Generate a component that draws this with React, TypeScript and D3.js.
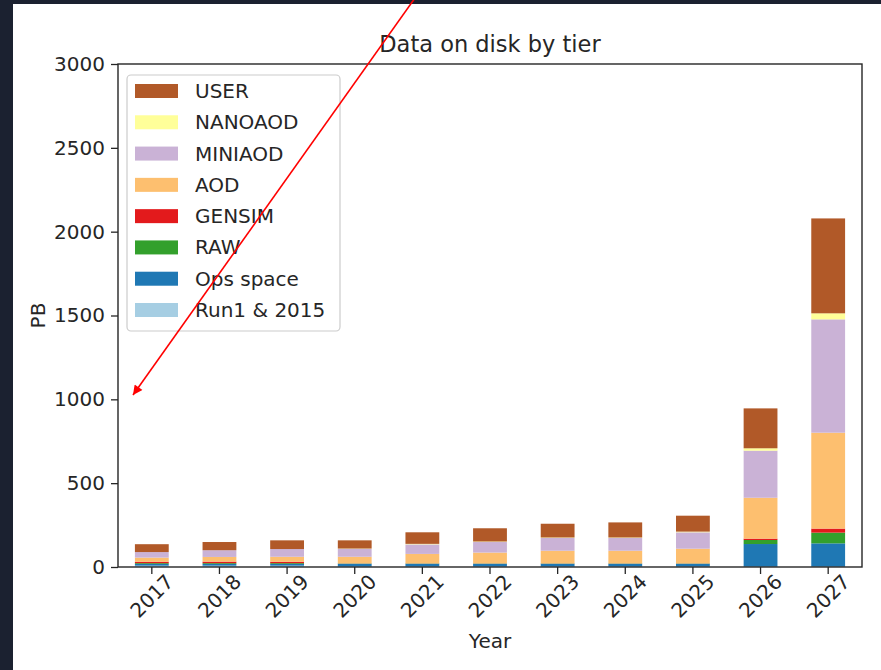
import { useEffect, useRef } from 'react';
import * as d3 from 'd3';

const years = ['2017', '2018', '2019', '2020', '2021', '2022', '2023', '2024', '2025', '2026', '2027'];
const run1 = [8, 8, 8, 3, 3, 3, 3, 3, 3, 2, 2];
const opsSpace = [10, 10, 10, 16, 16, 16, 16, 16, 16, 135, 139];
const raw = [5, 5, 5, 2, 2, 2, 2, 2, 2, 24, 64];
const gensim = [8, 9, 8, 1, 1, 1, 1, 1, 1, 8, 24];
const aod = [25, 28, 30, 39, 56, 64, 75, 75, 87, 244, 572];
const miniaod = [33, 40, 46, 47, 57, 63, 76, 76, 98, 281, 676];
const nanoaod = [0, 0, 0, 2, 3, 3, 3, 3, 4, 14, 36];
const user = [47, 49, 52, 49, 69, 79, 82, 90, 95, 238, 566];

// bottom to top, like the stacking order
const tiers = ['Run1 & 2015', 'Ops space', 'RAW', 'GENSIM', 'AOD', 'MINIAOD', 'NANOAOD', 'USER'];
const tierValues = [run1, opsSpace, raw, gensim, aod, miniaod, nanoaod, user];
const tierColors = ['#a6cee3', '#1f78b4', '#33a02c', '#e31a1c', '#fdbf6f', '#cab2d6', '#ffff99', '#b15928'];
const yTicks = [0, 500, 1000, 1500, 2000, 2500, 3000];

const W = 881;
const H = 670;
const left = 118;
const right = 862;
const top = 64;
const bottom = 567;
const font = 'DejaVu Sans, sans-serif';
const ink = '#262626';

const App = () => {
  const containerRef = useRef<HTMLDivElement | null>(null);

  useEffect(() => {
    if (!containerRef.current) return;
    containerRef.current.innerHTML = '';

    const rows = years.map((year, i) => {
      const row: Record<string, number | string> = { year };
      tiers.forEach((t, k) => {
        row[t] = tierValues[k][i];
      });
      return row;
    });

    const series = d3.stack<Record<string, number | string>>().keys(tiers)(rows as any);

    const x = d3.scaleBand<string>().domain(years).range([left, right]).paddingInner(0.5).paddingOuter(0.25);
    const y = d3.scaleLinear().domain([0, 3000]).range([bottom, top]);

    const svg = d3
      .create('svg')
      .attr('width', W)
      .attr('height', H)
      .attr('viewBox', [0, 0, W, H])
      .attr('font-family', font)
      .style('position', 'absolute')
      .style('left', '0px')
      .style('top', '0px')
      .style('display', 'block');

    // dark frame of the screenshot
    svg.append('rect').attr('width', W).attr('height', H).attr('fill', '#1b2130');
    svg.append('rect').attr('x', 13).attr('y', 4).attr('width', W - 13).attr('height', H - 4).attr('fill', '#ffffff');

    // bars
    svg
      .append('g')
      .selectAll('g')
      .data(series)
      .join('g')
      .attr('fill', (_, k) => tierColors[k])
      .selectAll('rect')
      .data(d => d)
      .join('rect')
      .attr('x', d => x(d.data.year as string) as number)
      .attr('width', x.bandwidth())
      .attr('y', d => y(d[1]))
      .attr('height', d => y(d[0]) - y(d[1]));

    // y axis
    const yAxis = d3.axisLeft(y).tickValues(yTicks).tickSize(7).tickPadding(6).tickFormat(d3.format('d'));
    svg
      .append('g')
      .attr('transform', `translate(${left},0)`)
      .call(yAxis)
      .call(g => g.select('.domain').remove())
      .call(g => g.selectAll('.tick line').attr('stroke', ink).attr('stroke-width', 1.3))
      .call(g =>
        g.selectAll('.tick text').attr('fill', ink).attr('font-size', 20).attr('font-family', font),
      );

    // x axis
    const xAxis = d3.axisBottom(x).tickSize(7).tickSizeOuter(0);
    svg
      .append('g')
      .attr('transform', `translate(0,${bottom})`)
      .call(xAxis)
      .call(g => g.select('.domain').remove())
      .call(g => g.selectAll('.tick line').attr('stroke', ink).attr('stroke-width', 1.3))
      .call(g =>
        g
          .selectAll('.tick text')
          .attr('fill', ink)
          .attr('font-size', 20)
          .attr('font-family', font)
          .attr('text-anchor', 'middle')
          .attr('dy', null)
          .attr('y', 29)
          .attr('dominant-baseline', 'central')
          .attr('transform', 'rotate(-45 0 29)'),
      );

    // frame
    svg
      .append('rect')
      .attr('x', left)
      .attr('y', top)
      .attr('width', right - left)
      .attr('height', bottom - top)
      .attr('fill', 'none')
      .attr('stroke', ink)
      .attr('stroke-width', 1.4);

    // title and labels
    svg
      .append('text')
      .attr('x', (left + right) / 2)
      .attr('y', 52)
      .attr('text-anchor', 'middle')
      .attr('font-size', 22.5)
      .attr('fill', ink)
      .text('Data on disk by tier');

    svg
      .append('text')
      .attr('x', (left + right) / 2)
      .attr('y', 648)
      .attr('text-anchor', 'middle')
      .attr('font-size', 20)
      .attr('fill', ink)
      .text('Year');

    svg
      .append('text')
      .attr('transform', `translate(45,${(top + bottom) / 2}) rotate(-90)`)
      .attr('text-anchor', 'middle')
      .attr('font-size', 20)
      .attr('fill', ink)
      .text('PB');

    // legend, reversed so USER is on top
    const legend = svg.append('g');
    legend
      .append('rect')
      .attr('x', 127)
      .attr('y', 75)
      .attr('width', 213)
      .attr('height', 256)
      .attr('rx', 4)
      .attr('fill', '#ffffff')
      .attr('fill-opacity', 0.8)
      .attr('stroke', '#cccccc')
      .attr('stroke-width', 1.2);

    const legendItems = tiers.map((t, k) => ({ t, c: tierColors[k] })).reverse();
    const ly = d3.scalePoint<string>().domain(legendItems.map(d => d.t)).range([91, 310]);
    legendItems.forEach(d => {
      const cy = ly(d.t) as number;
      legend.append('rect').attr('x', 135).attr('y', cy - 7).attr('width', 43).attr('height', 14).attr('fill', d.c);
      legend
        .append('text')
        .attr('x', 195)
        .attr('y', cy)
        .attr('dominant-baseline', 'central')
        .attr('font-size', 20)
        .attr('fill', ink)
        .text(d.t);
    });

    // red arrow drawn over the screenshot
    const defs = svg.append('defs');
    defs
      .append('marker')
      .attr('id', 'arrowHead')
      .attr('viewBox', '0 0 10 10')
      .attr('refX', 10)
      .attr('refY', 5)
      .attr('markerWidth', 7)
      .attr('markerHeight', 6)
      .attr('markerUnits', 'strokeWidth')
      .attr('orient', 'auto')
      .append('path')
      .attr('d', 'M0,0 L10,5 L0,10 z')
      .attr('fill', '#ff0000');

    svg
      .append('line')
      .attr('x1', 415)
      .attr('y1', -2)
      .attr('x2', 133)
      .attr('y2', 395)
      .attr('stroke', '#ff0000')
      .attr('stroke-width', 1.6)
      .attr('marker-end', 'url(#arrowHead)');

    containerRef.current.append(svg.node() as Node);
  }, []);

  return <div ref={containerRef} />;
};

export default App;
